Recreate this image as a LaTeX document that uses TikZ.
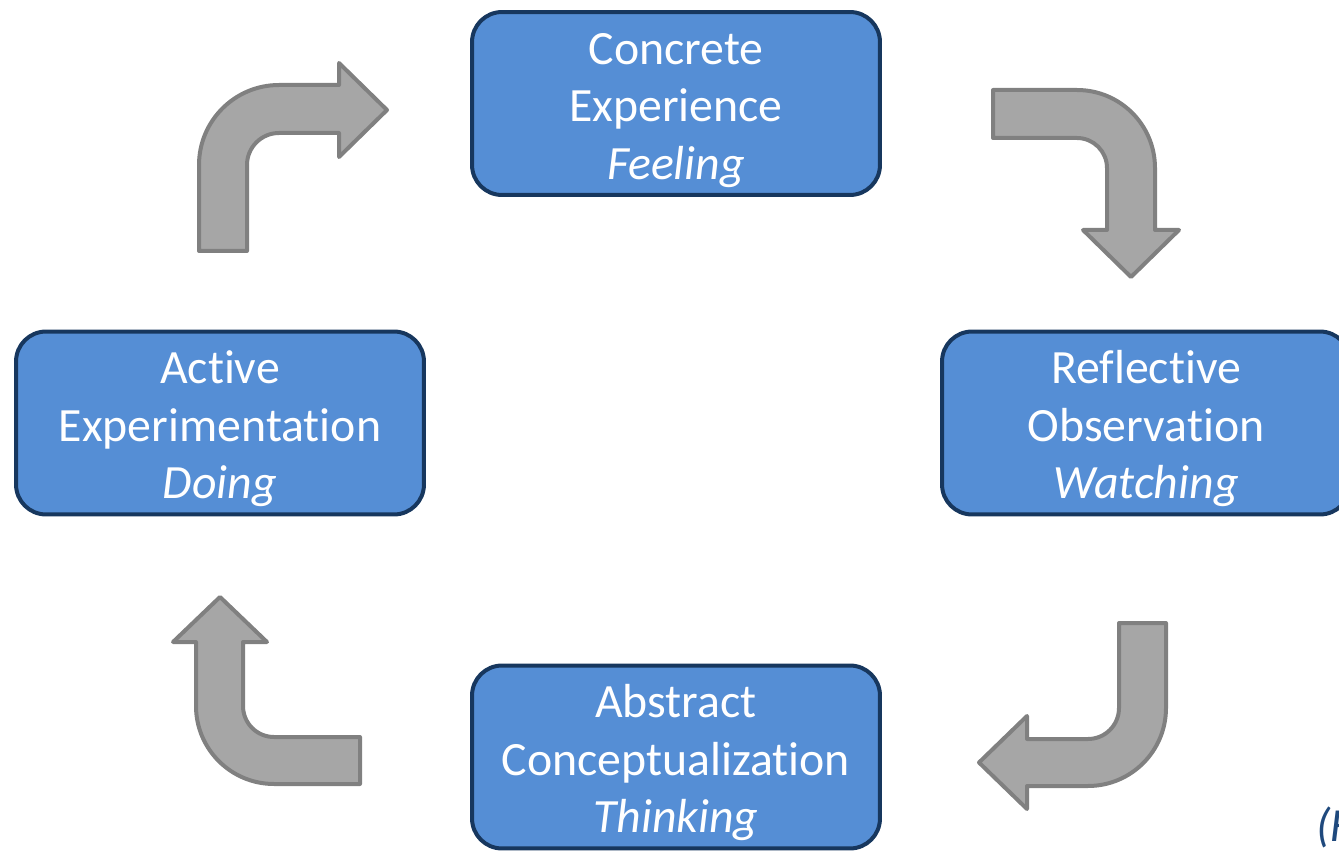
\documentclass[tikz,border=0pt]{standalone}
\usepackage{fontspec}
\setmainfont{Carlito}[Ligatures=NoCommon]
\definecolor{boxblue}{HTML}{558ED5}
\definecolor{boxline}{HTML}{17375E}
\definecolor{arrowfill}{HTML}{A6A6A6}
\definecolor{arrowline}{HTML}{808080}
\definecolor{citeblue}{HTML}{1F497D}
\begin{document}
\begin{tikzpicture}[
        x=0.02cm, y=-0.02cm,
        stage/.style={rectangle, draw=boxline, fill=boxblue, line width=0.08cm, rounded corners=0.6cm,
            minimum width=8.16cm, minimum height=3.66cm, text=white, align=center, text height=91pt,
            font=\fontsize{27.2}{32.7}\selectfont},
        bentarrow/.style={draw=arrowline, fill=arrowfill, line width=0.08cm, line join=round}
    ]
        \useasboundingbox (0,0) rectangle (1339,851);

        % Stages of the cycle
        \node[stage] (ce) at (676,103.5) {Concrete\\Experience\\\textit{Feeling}};
        \node[stage] (ro) at (1146,423) {Reflective\\Observation\\\textit{Watching}};
        \node[stage] (ac) at (676,757) {Abstract\\Conceptualization\\\textit{Thinking}};
        \node[stage] (ae) at (220,423) {Active\\Experimentation\\\textit{Doing}};

        % Experience to observation
        \draw[bentarrow] (993,90) -- (1077,90) arc[start angle=270, end angle=360, radius=78]
            -- (1155,230) -- (1179,230) -- (1131,277) -- (1083,230) -- (1107,230)
            -- (1107,168) arc[start angle=0, end angle=-90, radius=30] -- (993,138) -- cycle;

        % Observation to conceptualization
        \draw[bentarrow] (1119,623) -- (1166,623) -- (1166,708) arc[start angle=0, end angle=90, radius=78]
            -- (1027,786) -- (1027,809) -- (979,762.5) -- (1027,716) -- (1027,739)
            -- (1088,739) arc[start angle=90, end angle=0, radius=31] -- cycle;

        % Conceptualization to experimentation
        \draw[bentarrow] (220,597) -- (267,642) -- (243,642)
            -- (243,706) arc[start angle=180, end angle=90, radius=31] -- (360,737) -- (360,784)
            -- (274,784) arc[start angle=90, end angle=180, radius=78] -- (196,642) -- (173,642) -- cycle;

        % Experimentation to experience
        \draw[bentarrow] (199,251) -- (199,165) arc[start angle=180, end angle=270, radius=80]
            -- (339,85) -- (339,63) -- (387,110) -- (339,157) -- (339,133)
            -- (279,133) arc[start angle=270, end angle=180, radius=32] -- (247,251) -- cycle;

        % Source note
        \node[anchor=base west, inner sep=0pt, text=citeblue, font=\fontsize{27}{30}\selectfont\itshape] (src) at (1316,841) {(K};
    \end{tikzpicture}
\end{document}
